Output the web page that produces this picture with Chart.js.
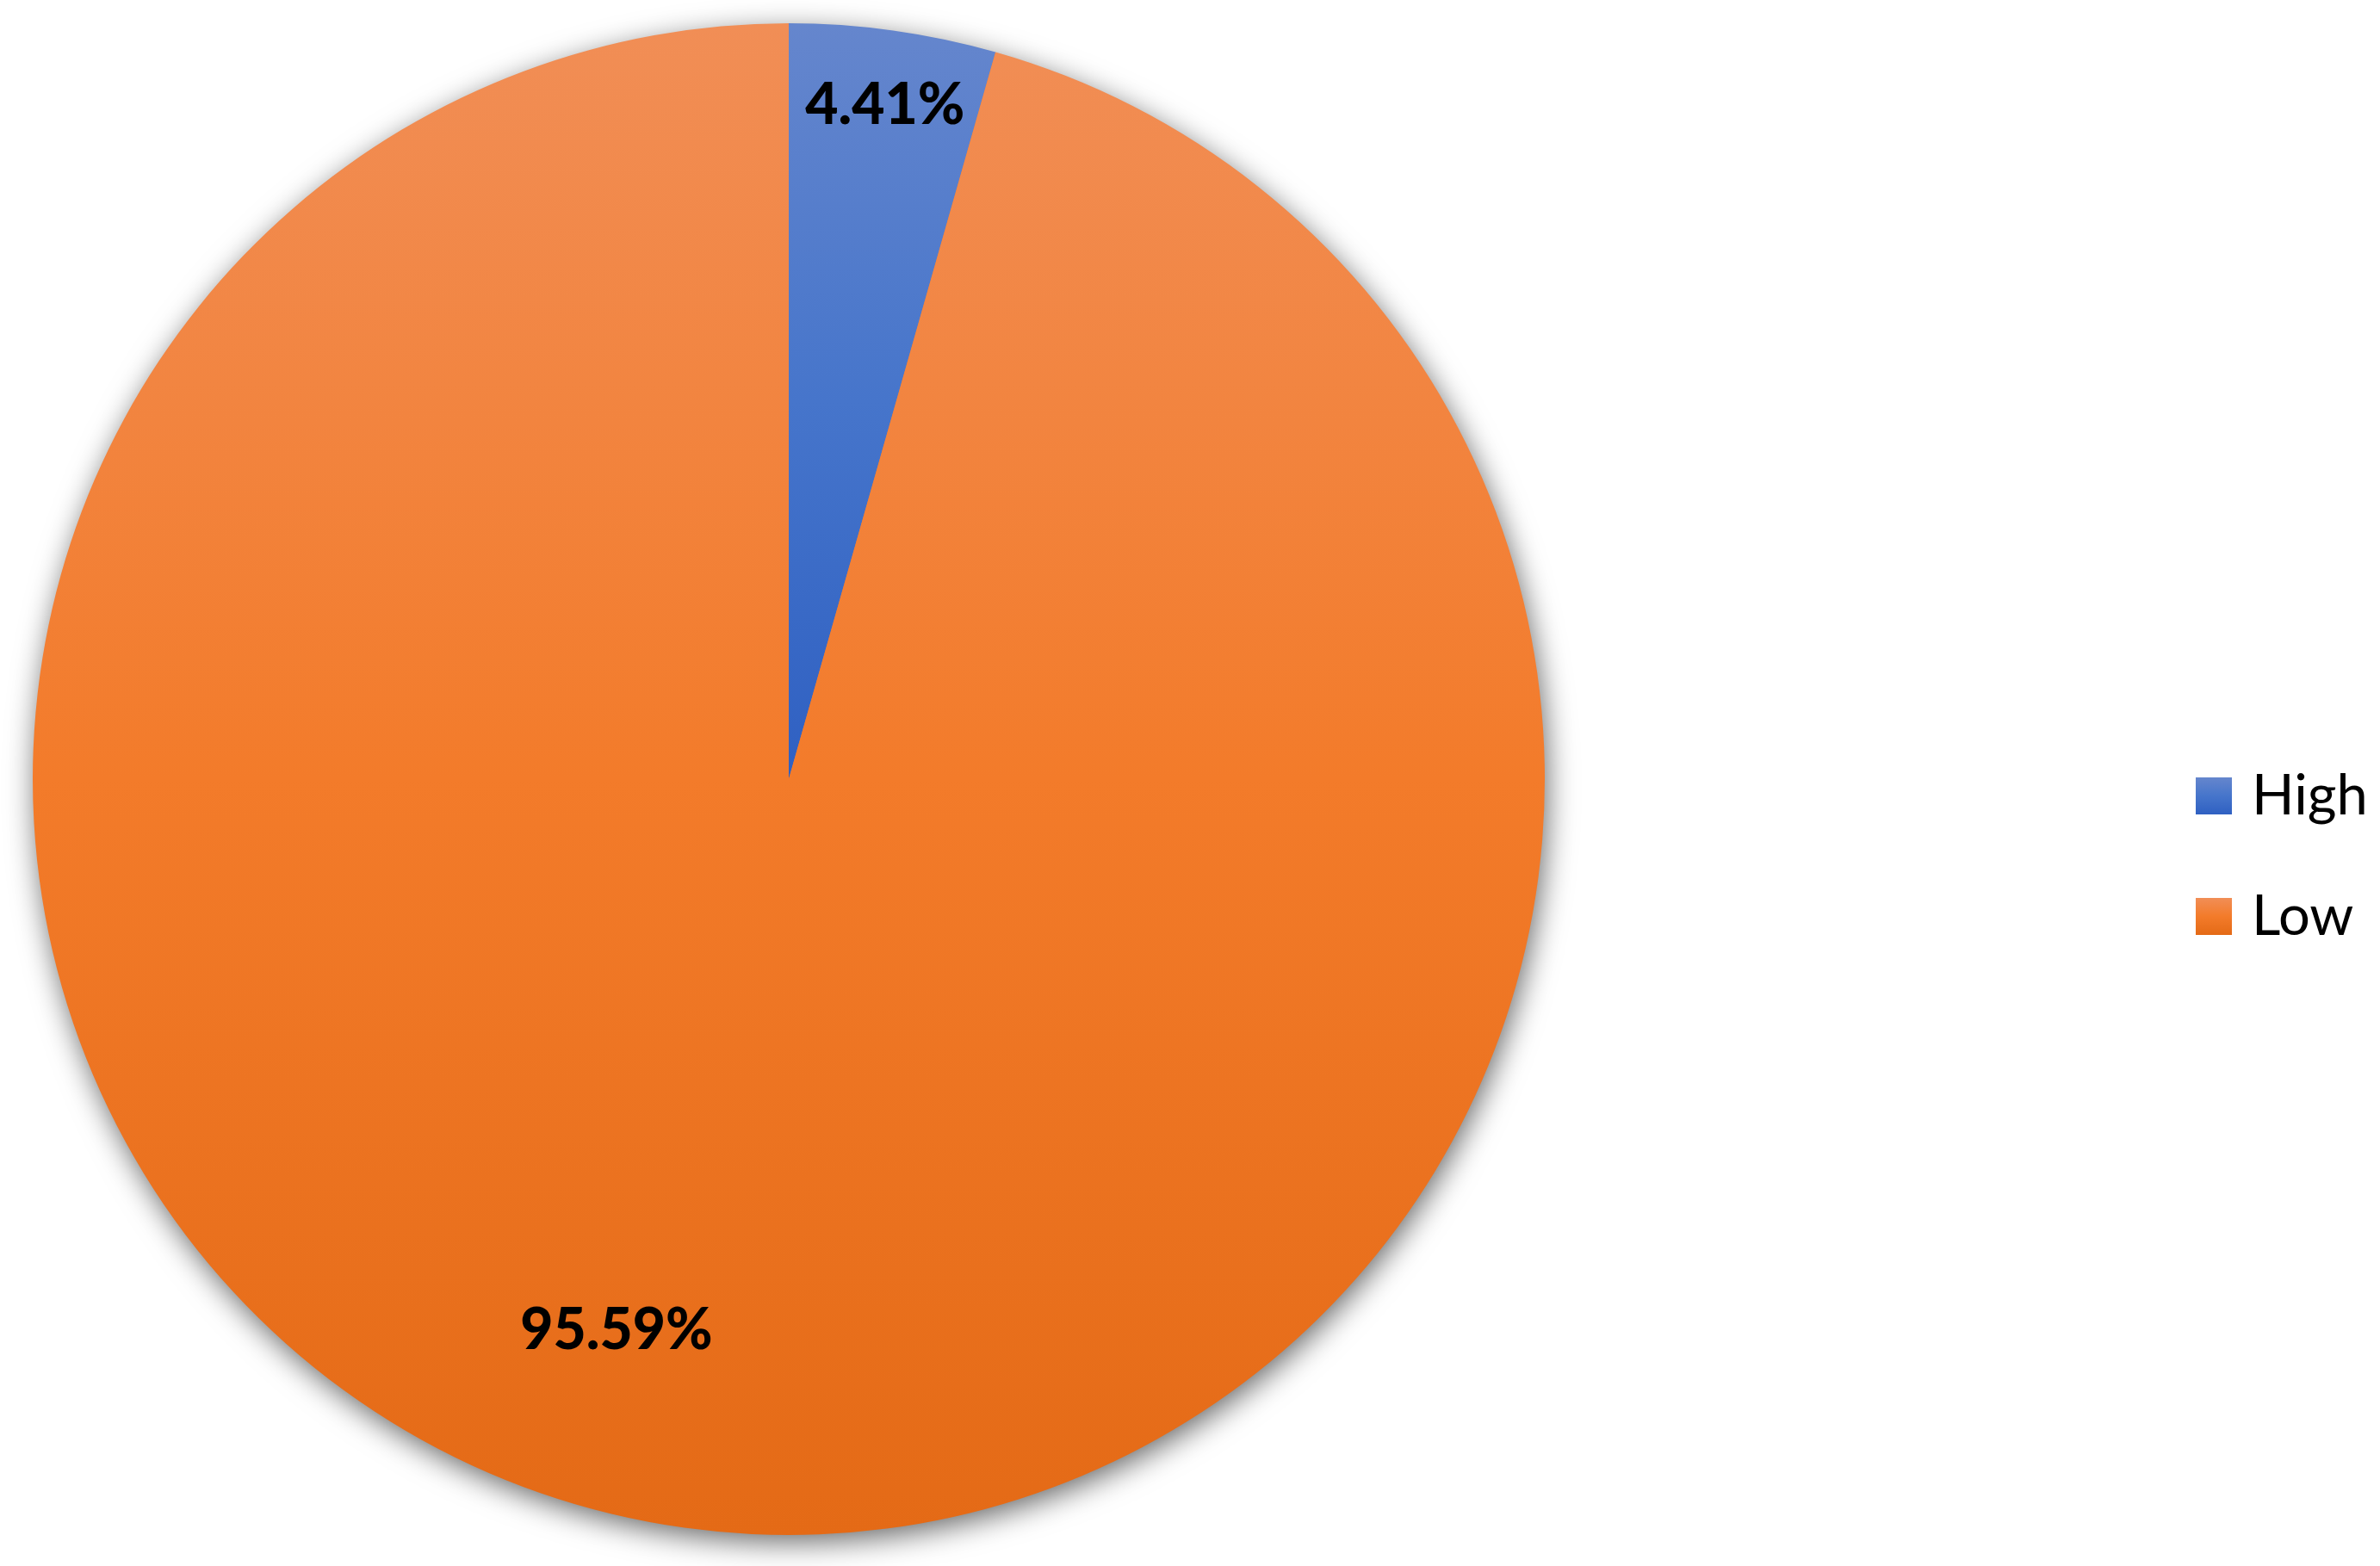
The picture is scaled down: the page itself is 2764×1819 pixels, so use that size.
<!DOCTYPE html>
<html>
<head>
<meta charset="utf-8">
<script src="https://cdn.jsdelivr.net/npm/chart.js@4/dist/chart.umd.min.js"></script>
<style>
  html, body { margin: 0; padding: 0; background: #ffffff; }
  #wrap { width: 2764px; height: 1819px; }
</style>
</head>
<body>
<div id="wrap"><canvas id="pieChart" width="2764" height="1819"></canvas></div>
<script>
// Chart data
const categories = ['High', 'Low'];
const shares = [4.41, 95.59];

// Gradient stops per slice (top, middle, bottom of the slice)
const sliceTop = ['#6586cd', '#f18e56'];
const sliceMid = ['#4675cb', '#f37b2a'];
const sliceBottom = ['#2f60c2', '#e46a16'];

// label placement relative to slice bisector: [angle shift (deg), radius fraction]
const labelPlace = [[0.2, 0.90], [9.4, 0.765]];

function pieGeometry(chart) {
  const a = chart.chartArea;
  return {
    cx: (a.left + a.right) / 2,
    cy: (a.top + a.bottom) / 2,
    r: Math.min(a.right - a.left, a.bottom - a.top) / 2
  };
}

// vertical extent of a slice, used for its gradient
function sliceExtent(index, g) {
  const total = shares.reduce((s, v) => s + v, 0);
  let start = 0;
  for (let i = 0; i < index; i++) start += shares[i] / total;
  const end = start + shares[index] / total;
  // angles measured clockwise from top
  let ys = [g.cy];
  const steps = 64;
  for (let k = 0; k <= steps; k++) {
    const t = (start + (end - start) * k / steps) * Math.PI * 2;
    ys.push(g.cy - g.r * Math.cos(t));
  }
  return [Math.min(...ys), Math.max(...ys)];
}

function makeGradient(ctx, i, y0, y1) {
  const grad = ctx.createLinearGradient(0, y0, 0, y1);
  grad.addColorStop(0, sliceTop[i]);
  grad.addColorStop(0.5, sliceMid[i]);
  grad.addColorStop(1, sliceBottom[i]);
  return grad;
}

function sliceFill(context) {
  const chart = context.chart;
  if (!chart.chartArea) return sliceMid[context.dataIndex];
  const g = pieGeometry(chart);
  const [y0, y1] = sliceExtent(context.dataIndex, g);
  return makeGradient(chart.ctx, context.dataIndex, y0, y1);
}

// soft drop shadow behind the pie
const shadowPlugin = {
  id: 'pieShadow',
  beforeDatasetsDraw(chart) {
    const g = pieGeometry(chart);
    const ctx = chart.ctx;
    ctx.save();
    ctx.shadowColor = 'rgba(0,0,0,0.6)';
    ctx.shadowBlur = 34;
    ctx.shadowOffsetX = 3;
    ctx.shadowOffsetY = 9;
    ctx.beginPath();
    ctx.arc(g.cx, g.cy, g.r - 1, 0, Math.PI * 2);
    ctx.fillStyle = '#ee7b2c';
    ctx.fill();
    ctx.restore();
  }
};

// percentage labels inside the slices
const labelPlugin = {
  id: 'sliceLabels',
  afterDatasetsDraw(chart) {
    const ctx = chart.ctx;
    const meta = chart.getDatasetMeta(0);
    ctx.save();
    ctx.font = '900 66px Lato, "Open Sans", sans-serif';
    ctx.fillStyle = '#000000';
    ctx.textAlign = 'center';
    ctx.textBaseline = 'middle';
    meta.data.forEach((arc, i) => {
      const p = arc.getProps(['x', 'y', 'startAngle', 'endAngle', 'outerRadius'], true);
      const mid = (p.startAngle + p.endAngle) / 2 + labelPlace[i][0] * Math.PI / 180;
      const rr = p.outerRadius * labelPlace[i][1];
      const x = p.x + Math.cos(mid) * rr;
      const y = p.y + Math.sin(mid) * rr;
      ctx.fillText(shares[i].toFixed(2) + '%', x, y);
    });
    ctx.restore();
  }
};

// legend on the right
const legendPlugin = {
  id: 'sideLegend',
  afterDraw(chart) {
    const ctx = chart.ctx;
    const boxX = 2550, box = 43, textX = 2615;
    const baselines = [946, 1086];
    ctx.save();
    ctx.font = '65px Lato, "Open Sans", sans-serif';
    ctx.textAlign = 'left';
    ctx.textBaseline = 'alphabetic';
    categories.forEach((name, i) => {
      const yb = baselines[i];
      ctx.fillStyle = makeGradient(ctx, i, yb - box, yb);
      ctx.fillRect(boxX, yb - box, box - 1, box);
      ctx.fillStyle = '#000000';
      ctx.fillText(name, textX, yb);
    });
    ctx.restore();
  }
};

const pieCanvas = document.getElementById('pieChart');
const pieChart = new Chart(pieCanvas.getContext('2d'), {
  type: 'pie',
  data: {
    labels: categories,
    datasets: [{
      data: shares,
      backgroundColor: sliceFill,
      borderWidth: 0
    }]
  },
  options: {
    responsive: false,
    animation: false,
    layout: {
      padding: { left: 38, top: 27, right: 970, bottom: 36 }
    },
    plugins: {
      legend: { display: false },
      tooltip: { enabled: false },
      title: { display: false }
    }
  },
  plugins: [shadowPlugin, labelPlugin, legendPlugin]
});
</script>
</body>
</html>
